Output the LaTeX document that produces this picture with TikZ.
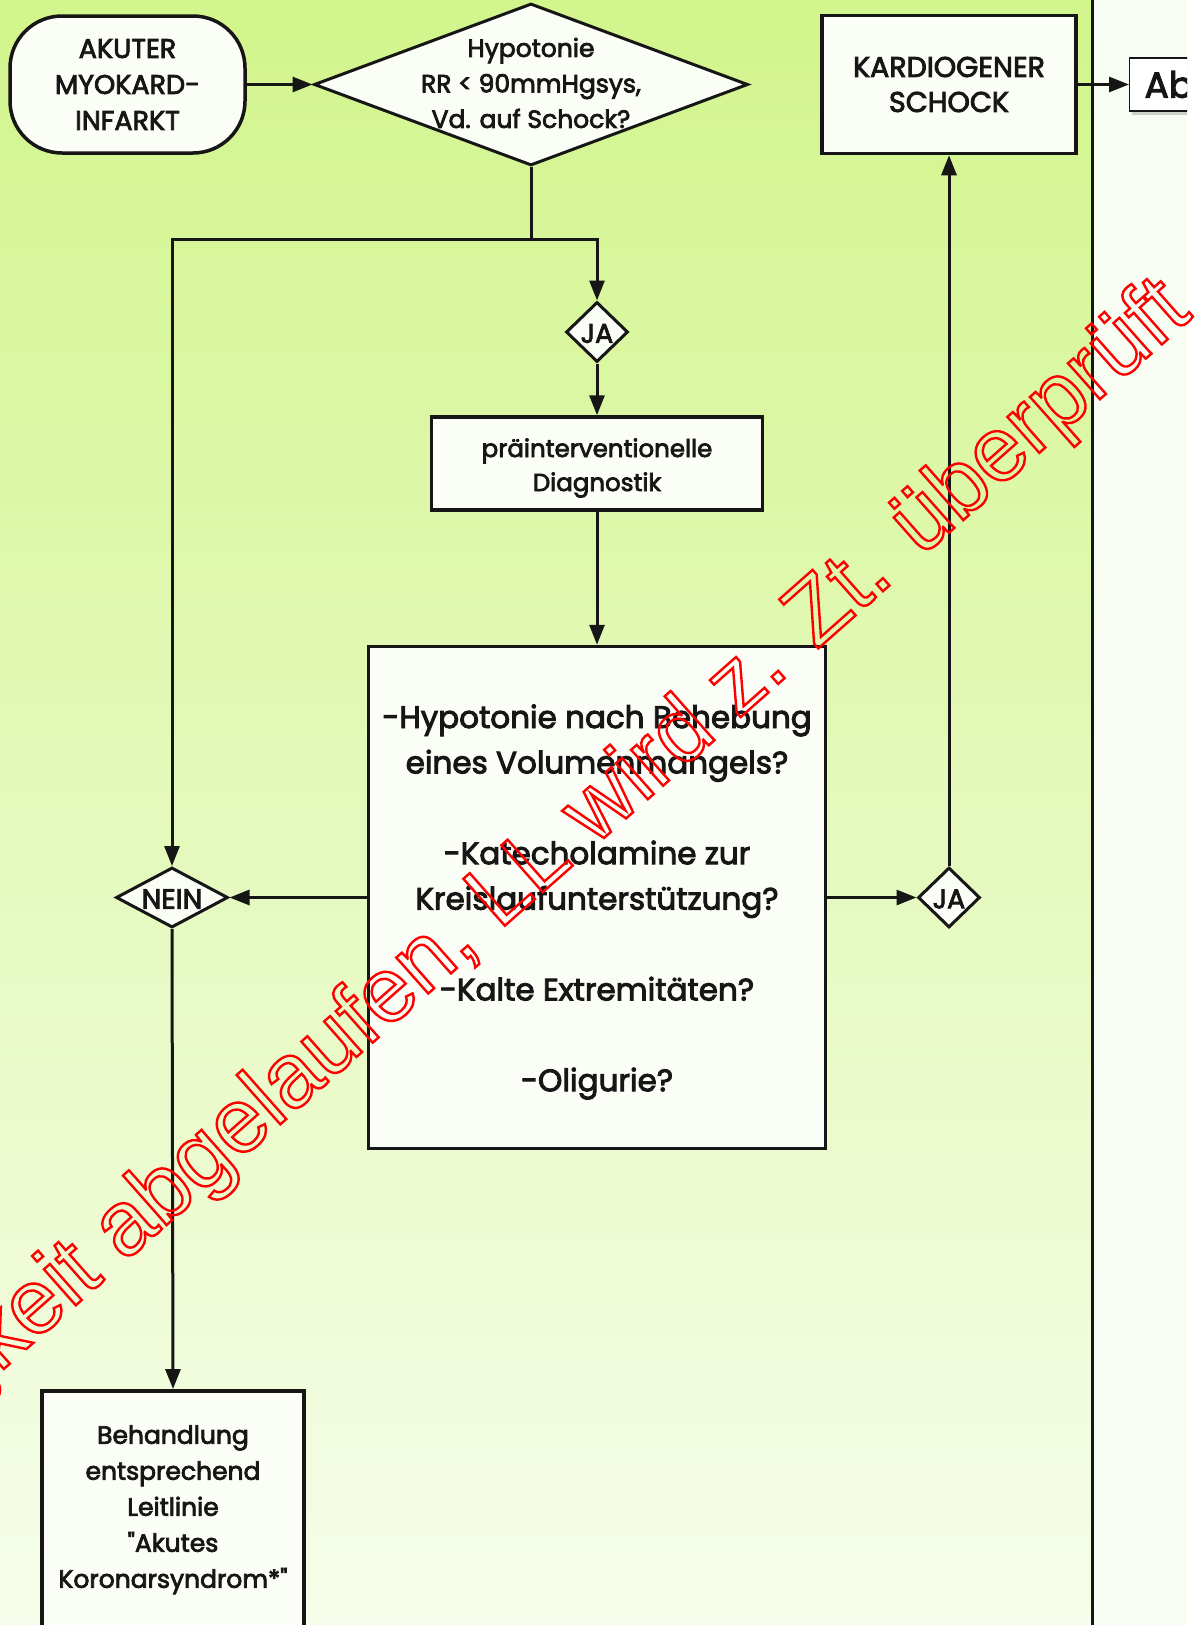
\documentclass[tikz,border=0pt]{standalone}
\usepackage{fontspec}
\setmainfont{Poppins}
\newfontfamily\mfont{Poppins}[FakeBold=3]
\newfontfamily\wmfont{Liberation Sans}
\usetikzlibrary{arrows.meta,shapes.geometric,shadows}
\definecolor{bgtop}{RGB}{210,245,140}
\definecolor{bgmid}{RGB}{230,250,186}
\definecolor{bgbot}{RGB}{246,253,234}
\definecolor{rightbg}{RGB}{248,253,244}
\definecolor{boxfill}{RGB}{251,253,247}
\definecolor{ink}{RGB}{22,22,22}
\definecolor{wmred}{RGB}{255,0,0}
\begin{document}
\begin{tikzpicture}[x=1pt,y=-1pt,
  box/.style={draw=ink, line width=3.5pt, fill=boxfill, inner sep=0pt, align=center, text=ink},
  dia/.style={diamond, draw=ink, line width=3pt, fill=boxfill, inner sep=0pt},
  lbl/.style={text=ink, inner sep=0pt, align=center},
  arr/.style={draw=ink, line width=3pt, -{Triangle[length=20pt,width=15pt]}},
  ln/.style={draw=ink, line width=3pt},
]
\useasboundingbox (0,0) rectangle (1201,1625);
% background
\fill[white] (0,0) rectangle (1201,1625);
\shade[top color=bgtop, middle color=bgmid, bottom color=bgbot] (0,0) rectangle (1092,1625);
\fill[rightbg] (1092,0) rectangle (1187,1625);
\draw[ln] (1092,-5) -- (1092,1630);

% nodes
\node[box, rounded corners=52pt, minimum width=235pt, minimum height=137pt,
      font=\mfont\fontsize{27}{36}\selectfont] (akut) at (127.5,84.5) {AKUTER\\MYOKARD-\\INFARKT};
\node[dia, minimum width=434pt, minimum height=162pt] (hyp) at (531,84.5) {};
\node[lbl, font=\mfont\fontsize{25}{35.5}\selectfont] (hyptxt) at (531,83) {Hypotonie\\RR < 90mmHgsys,\\Vd. auf Schock?};
\node[box, minimum width=254pt, minimum height=138pt,
      font=\mfont\fontsize{28.5}{35}\selectfont] (kard) at (949,84.5) {KARDIOGENER\\SCHOCK};
\node[dia, minimum width=62pt, minimum height=60pt] (ja1) at (597,332) {};
\node[lbl, font=\mfont\fontsize{27}{27}\selectfont] (ja1txt) at (597,333.5) {JA};
\node[box, minimum width=331pt, minimum height=93pt] (diag) at (597,463.5) {};
\node[lbl, font=\mfont\fontsize{24.5}{34}\selectfont] (diagtxt) at (597,468) {präinterventionelle\\Diagnostik};
\node[box, minimum width=457pt, minimum height=502pt] (fragen) at (597,897.5) {};
\node[lbl, font=\mfont\fontsize{31}{45.4}\selectfont] (fragentxt) at (597,902)
  {-Hypotonie nach Behebung\\eines Volumenmangels?\\[45.4pt]-Katecholamine zur\\Kreislaufunterstützung?\\[45.4pt]-Kalte Extremitäten?\\[45.4pt]-Oligurie?};
\node[dia, minimum width=112pt, minimum height=60pt] (nein) at (172,897.5) {};
\node[lbl, font=\mfont\fontsize{28}{28}\selectfont] (neintxt) at (172,899) {NEIN};
\node[dia, minimum width=62pt, minimum height=60pt] (ja2) at (949,897.5) {};
\node[lbl, font=\mfont\fontsize{27}{27}\selectfont] (ja2txt) at (949,899) {JA};
\node[box, minimum width=262pt, minimum height=238pt, anchor=north,
      font=\mfont\fontsize{25}{36}\selectfont] (beh) at (173,1389)
  {Behandlung\\entsprechend\\Leitlinie\\"Akutes\\Koronarsyndrom*"};
\begin{scope}
  \clip (1092,0) rectangle (1187,1625);
  \node[draw=ink, line width=1.2pt, fill=white, anchor=west, minimum height=53pt,
        text width=140pt, align=left, inner xsep=15pt, inner ysep=0pt,
        drop shadow={shadow xshift=2pt, shadow yshift=-4pt, opacity=0.35},
        font=\mfont\fontsize{36}{36}\selectfont, text=ink] (ab) at (1129,84.5) {Ab};
\end{scope}

% connectors
\coordinate (j1) at (531,239);
\draw[ln] (hyp.south) -- (j1);
\draw[arr] (j1) -| (ja1.north);
\draw[arr] (j1) -| (nein.north);
\draw[arr] (akut.east) -- (hyp.west);
\draw[arr] (ja1.south) -- (diag.north);
\draw[arr] (diag.south) -- (fragen.north);
\draw[arr] (fragen.west) -- (nein.east);
\draw[arr] (fragen.east) -- (ja2.west);
\draw[arr] (ja2.north) -- (kard.south);
\draw[arr] (nein.south) -- (beh.north);
\draw[arr] (kard.east) -- (ab.west);

% watermark
\node[text=wmred, rotate=41.5, anchor=base east, inner sep=0pt,
      font=\wmfont\fontsize{91}{91}\selectfont] (wm) at (1194,316)
  {\special{pdf:literal direct 1 Tr 2.4 w 1 0 0 RG}Gültigkeit abgelaufen, LL wird z. Zt. überprüft\special{pdf:literal direct 0 Tr}};
\end{tikzpicture}
\end{document}
